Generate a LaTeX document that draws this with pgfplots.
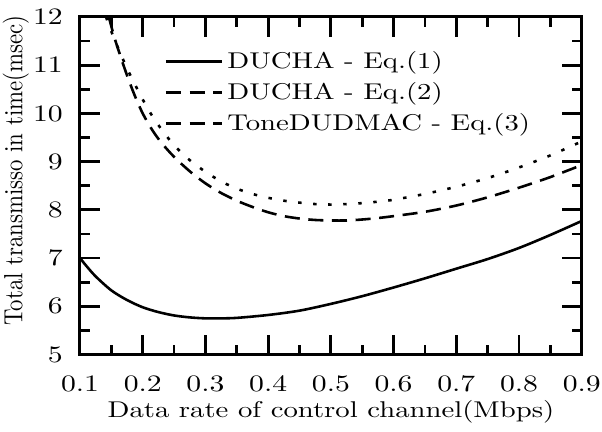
\documentclass[border=0pt]{standalone}
\usepackage{graphicx}
\usepackage{pgfplots}
\pgfplotsset{compat=1.18}
% the reference text is set wide: stretch it sideways
\newcommand{\wide}[1]{\scalebox{1.26}[1]{#1}}
\newcommand{\txt}{\fontsize{10.6}{12.6}\selectfont}

\begin{document}
\begin{tikzpicture}
\begin{axis}[
  scale only axis, width=233.4pt, height=157pt,
  xmin=0.1, xmax=0.9, ymin=5, ymax=12,
  xtick={0.1,0.2,...,0.9}, ytick={5,6,...,12},
  minor x tick num=1, minor y tick num=1,
  major tick length=9.3pt, minor tick length=4.6pt,
  tick style={line width=1.3pt, black},
  axis line style={line width=1.4pt},
  tick label style={font=\txt},
  label style={font=\txt},
  xticklabel={\wide{\axisdefaultticklabel}},
  yticklabel={\wide{\axisdefaultticklabel}},
  xticklabel style={/pgf/number format/fixed, /pgf/number format/fixed zerofill,
    /pgf/number format/precision=1, yshift=-6.5pt},
  yticklabel style={xshift=-4.5pt},
  xlabel={\wide{Data rate of control channel(Mbps)}},
  ylabel={\scalebox{1}[1.15]{Total transmisso in time(msec)}},
  xlabel style={at={(axis description cs:0.5,-0.17)}, anchor=center},
  ylabel style={at={(axis description cs:-0.128,0.545)}, anchor=center},
  legend style={draw=none, fill=none, at={(axis description cs:0.155,0.925)}, anchor=north west,
    row sep=1pt, font=\txt},
  legend cell align=left,
  legend image code/.code={\draw[#1] (0pt,0pt) -- (26pt,0pt);},
  ]
\addplot[black, line width=1.2pt, smooth] coordinates {
  (0.100,7.00) (0.110,6.84) (0.125,6.62) (0.150,6.33) (0.175,6.13) (0.200,5.98)
  (0.225,5.88) (0.250,5.81) (0.275,5.77) (0.300,5.75) (0.325,5.75) (0.350,5.76)
  (0.400,5.82) (0.450,5.91) (0.500,6.05) (0.550,6.21) (0.600,6.39) (0.650,6.58)
  (0.700,6.78) (0.750,6.98) (0.800,7.21) (0.850,7.48) (0.900,7.77)};
\addlegendentry{\wide{DUCHA - Eq.(1)}}
\addplot[black, line width=1.2pt, smooth, dash pattern=on 7pt off 4pt] coordinates {
  (0.146,12.0) (0.155,11.57) (0.165,11.17) (0.175,10.79) (0.187,10.38) (0.200,10.00)
  (0.215,9.66) (0.230,9.39) (0.250,9.10) (0.275,8.80) (0.300,8.55) (0.325,8.35)
  (0.350,8.19) (0.375,8.06) (0.400,7.95) (0.425,7.87) (0.450,7.82) (0.475,7.79)
  (0.500,7.78) (0.525,7.78) (0.550,7.80) (0.575,7.83) (0.600,7.87) (0.650,7.96)
  (0.700,8.09) (0.750,8.26) (0.800,8.46) (0.850,8.68) (0.900,8.93)};
\addlegendentry{\wide{DUCHA - Eq.(2)}}
\addplot[black, line width=1.2pt, smooth, dash pattern=on 1.6pt off 5.4pt, forget plot] coordinates {
  (0.1415,12.0) (0.150,11.70) (0.160,11.38) (0.170,11.08) (0.180,10.80) (0.190,10.54)
  (0.200,10.29) (0.215,9.95) (0.230,9.67) (0.250,9.34) (0.275,9.03) (0.300,8.79)
  (0.325,8.59) (0.350,8.44) (0.375,8.33) (0.400,8.25) (0.425,8.19) (0.450,8.15)
  (0.475,8.12) (0.500,8.11) (0.525,8.12) (0.550,8.14) (0.575,8.17) (0.600,8.21)
  (0.650,8.33) (0.700,8.48) (0.750,8.66) (0.800,8.88) (0.850,9.13) (0.900,9.42)};
\addlegendimage{black, line width=1.2pt, dash pattern=on 7pt off 4pt}
\addlegendentry{\wide{ToneDUDMAC - Eq.(3)}}
\end{axis}
\pgfresetboundingbox
\path[use as bounding box] ([xshift=-37.2pt,yshift=-35.8pt]current axis.south west)
  rectangle ([xshift=9.4pt,yshift=7.9pt]current axis.north east);
\end{tikzpicture}
\end{document}
